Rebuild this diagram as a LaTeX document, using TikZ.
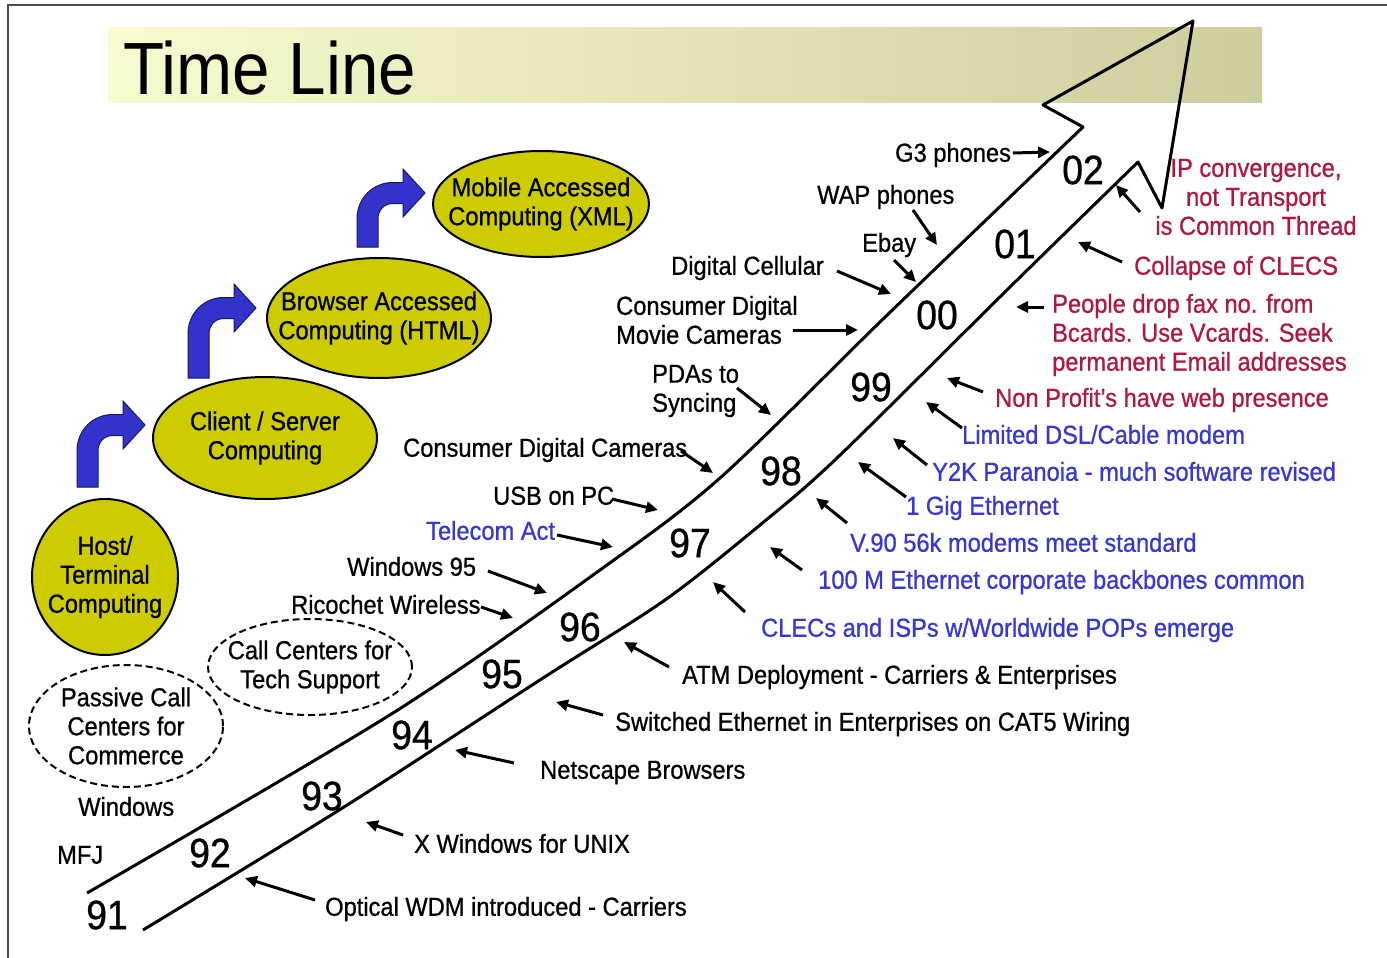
\documentclass[tikz,border=0pt]{standalone}
\usepackage{fontspec}
\setmainfont{Liberation Sans}[FakeStretch=0.91]
\newfontfamily\lbff{Liberation Sans}[FakeStretch=0.91, FakeBold=0.8]
\usetikzlibrary{arrows.meta,shapes.geometric}
\definecolor{olv}{RGB}{204,204,0}
\definecolor{tred}{RGB}{175,25,65}
\definecolor{tblue}{RGB}{55,55,210}
\definecolor{barrow}{RGB}{51,51,204}
\definecolor{banL}{RGB}{250,250,208}
\definecolor{banR}{RGB}{205,205,158}
\newcommand\lbfont{\lbff\fontsize{26}{29}\selectfont}
\newcommand\bentarr[3]{%
  \filldraw[fill=barrow, draw=black!55!barrow, line width=1pt, shift={(#1,#2)}]
   (0,#3) -- (0,26) .. controls (0,5) and (16,-10.5) .. (36,-10.5) -- (46,-10.5) -- (46,-24) -- (68,0)
   -- (46,24) -- (46,10.5) -- (36,10.5) .. controls (27,10.5) and (21,17) .. (21,26) -- (21,#3) -- cycle;}
\newcommand\parrow[3]{\coordinate (#1s) at #2; \coordinate (#1e) at #3; \draw[pt] (#1s) -- (#1e);}
\tikzset{
  lbl/.style={inner sep=0pt, anchor=west, font=\lbfont, text height=18.5pt, text depth=5pt},
  mlbl/.style={inner sep=0pt, font=\lbfont},
  yr/.style={inner sep=0pt, font=\lbff\fontsize{41}{41}\selectfont},
  pt/.style={line width=3pt, -{Triangle[length=12pt,width=11pt]}},
  yell/.style={ellipse, draw=black, line width=2pt, fill=olv, inner sep=0pt},
  dell/.style={ellipse, draw=black, line width=2pt, dash pattern=on 7pt off 4pt, fill=white, inner sep=0pt},
  etext/.style={inner sep=0pt, align=center, font=\lbfont},
  band/.style={draw=black, line width=3pt, line join=round}
}
\begin{document}
\begin{tikzpicture}[x=1pt,y=-1pt]
\useasboundingbox (0,0) rectangle (1387,958);
\fill[white] (0,0) rectangle (1387,958);
% frame
\draw[line width=2.5pt, black!70] (8,958) -- (8,5) -- (1387,5);
% title banner
\shade[left color=banL, right color=banR] (108,28) rectangle (1262,102);
\node[inner sep=0pt, anchor=base west, font=\fontsize{74}{74}\selectfont] (title) at (123,94) {Time Line};
% main arrow
\draw[band] plot[smooth, tension=0.5] coordinates {(87,893) (393,713) (600,570) (720,478) (880,322) (1010,197) (1083,127)}
  -- (1043,105) -- (1193,21) -- (1162,208)
  -- plot[smooth, tension=0.5] coordinates {(1138,162) (1010,287) (837,458) (760,525) (665,600) (543,678) (344,807) (143,930)};
% years
\node[yr] (y91) at (107,915) {91};
\node[yr] (y92) at (210,853) {92};
\node[yr] (y93) at (322,796) {93};
\node[yr] (y94) at (412,735) {94};
\node[yr] (y95) at (502,674) {95};
\node[yr] (y96) at (580,627) {96};
\node[yr] (y97) at (690,543) {97};
\node[yr] (y98) at (781,471) {98};
\node[yr] (y99) at (871,387) {99};
\node[yr] (y00) at (937,315) {00};
\node[yr] (y01) at (1015,244) {01};
\node[yr] (y02) at (1083,170) {02};
% ellipses
\node[yell, minimum width=146pt, minimum height=156pt] (host) at (105,577) {};
\node[etext] (hostt) at (host.center) {Host/\\Terminal\\Computing};
\node[yell, minimum width=224pt, minimum height=122pt] (cs) at (265,438) {};
\node[etext] (cst) at (cs.center) {Client / Server\\Computing};
\node[yell, minimum width=224pt, minimum height=120pt] (bac) at (379,318) {};
\node[etext] (bact) at (bac.center) {Browser Accessed\\Computing (HTML)};
\node[yell, minimum width=216pt, minimum height=106pt] (mac) at (541,204) {};
\node[etext] (mact) at (mac.center) {Mobile Accessed\\Computing (XML)};
\node[dell, minimum width=204pt, minimum height=96pt] (ccts) at (310,667) {};
\node[etext] (cctst) at (ccts.center) {Call Centers for\\Tech Support};
\node[dell, minimum width=194pt, minimum height=122pt] (pcc) at (126,726) {};
\node[etext] (pcct) at (pcc.center) {Passive Call\\Centers for\\Commerce};
% bent arrows
\bentarr{77}{425}{62}
\bentarr{188}{308}{70}
\bentarr{357}{193}{54}
% left labels
\node[lbl] (g3) at (895,155) {G3 phones};
\node[lbl] (wap) at (817,197) {WAP phones};
\node[lbl] (ebay) at (862,245) {Ebay};
\node[lbl] (dcell) at (671,268) {Digital Cellular};
\node[mlbl, anchor=west, align=left] (movie) at (616,320) {Consumer Digital\\Movie Cameras};
\node[mlbl, anchor=west, align=left] (pda) at (652,391) {PDAs to\\Syncing};
\node[lbl] (cdc) at (403,450) {Consumer Digital Cameras};
\node[lbl] (usb) at (493,498) {USB on PC};
\node[lbl, text=tblue] (tel) at (426,533) {Telecom Act};
\node[lbl] (w95) at (347,569) {Windows 95};
\node[lbl] (rico) at (291,607) {Ricochet Wireless};
\node[lbl] (win) at (78,809) {Windows};
\node[lbl] (mfj) at (57,857) {MFJ};
% right labels
\node[mlbl, align=center, text=tred] (ipc) at (1256,197) {IP convergence,\\not Transport\\is Common Thread};
\node[lbl, text=tred] (coll) at (1134,268) {Collapse of CLECS};
\node[mlbl, anchor=west, align=left, text=tred] (ppl) at (1052,335) {People drop fax no. from\\Bcards. Use Vcards. Seek\\permanent Email addresses};
\node[lbl, text=tred] (npr) at (995,400) {Non Profit’s have web presence};
\node[lbl, text=tblue] (dsl) at (962,437) {Limited DSL/Cable modem};
\node[lbl, text=tblue] (y2k) at (932,474) {Y2K Paranoia - much software revised};
\node[lbl, text=tblue] (gig) at (906,508) {1 Gig Ethernet};
\node[lbl, text=tblue] (v90) at (850,545) {V.90 56k modems meet standard};
\node[lbl, text=tblue] (hm) at (818,582) {100 M Ethernet corporate backbones common};
\node[lbl, text=tblue] (clec) at (761,630) {CLECs and ISPs w/Worldwide POPs emerge};
\node[lbl] (atm) at (682,677) {ATM Deployment - Carriers \& Enterprises};
\node[lbl] (sw) at (615,724) {Switched Ethernet in Enterprises on CAT5 Wiring};
\node[lbl] (net) at (540,772) {Netscape Browsers};
\node[lbl] (xw) at (414,846) {X Windows for UNIX};
\node[lbl] (opt) at (325,909) {Optical WDM introduced - Carriers};
% label arrows (left)
\parrow{ag3}{(1013,153)}{(1050,152)}
\parrow{awap}{(913,210)}{(937,245)}
\parrow{aebay}{(894,260)}{(916,282)}
\parrow{adcell}{(837,271)}{(891,294)}
\parrow{amovie}{(793,330)}{(858,330)}
\parrow{apda}{(737,388)}{(771,415)}
\parrow{acdc}{(681,451)}{(713,473)}
\parrow{ausb}{(612,499)}{(658,510)}
\parrow{atel}{(557,535)}{(613,547)}
\parrow{aw95}{(488,571)}{(547,593)}
\parrow{arico}{(481,607)}{(513,618)}
% label arrows (right)
\parrow{aipc}{(1140,212)}{(1116,185)}
\parrow{acoll}{(1122,262)}{(1078,242)}
\parrow{appl}{(1044,307)}{(1016,307)}
\parrow{anpr}{(983,392)}{(947,378)}
\parrow{adsl}{(962,428)}{(926,402)}
\parrow{ay2k}{(927,465)}{(893,438)}
\parrow{agig}{(906,497)}{(858,462)}
\parrow{av90}{(847,523)}{(816,498)}
\parrow{ahm}{(802,570)}{(770,547)}
\parrow{aclec}{(745,612)}{(713,582)}
\parrow{aatm}{(669,667)}{(624,642)}
\parrow{asw}{(603,715)}{(556,702)}
\parrow{anet}{(514,763)}{(455,750)}
\parrow{axw}{(403,835)}{(366,822)}
\parrow{aopt}{(315,900)}{(245,878)}
\end{tikzpicture}
\end{document}
